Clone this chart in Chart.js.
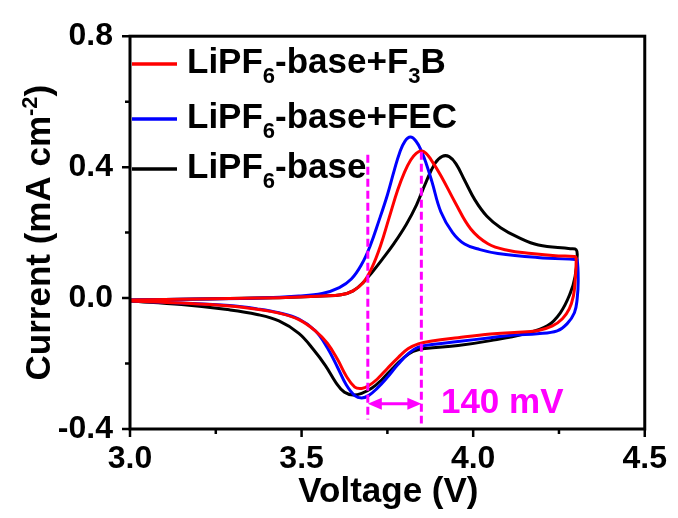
<!DOCTYPE html>
<html><head><meta charset="utf-8">
<script src="https://cdn.jsdelivr.net/npm/chart.js@4/dist/chart.umd.min.js"></script>
<style>html,body{margin:0;padding:0;background:#fff}canvas{display:block}</style>
</head><body>
<canvas id="c" width="678" height="518"></canvas>
<script>
// ---- axis ticks ----
const xMajorTicks = [3.0, 3.5, 4.0, 4.5];
const xMinorTicks = [3.25, 3.75, 4.25];
const yMajorTicks = [-0.4, 0.0, 0.4, 0.8];
const yMinorTicks = [-0.2, 0.2, 0.6];
const xTitle = 'Voltage (V)';
const yTitleParts = [['Current (mA cm', 0], ['-2', 1], [')', 0]];

// ---- legend labels (text, 0 = normal, -1 = subscript) ----
const redLabel   = [['LiPF', 0], ['6', -1], ['-base+F', 0], ['3', -1], ['B', 0]];
const blueLabel  = [['LiPF', 0], ['6', -1], ['-base+FEC', 0]];
const blackLabel = [['LiPF', 0], ['6', -1], ['-base', 0]];

// ---- LiPF6-base+F3B (red): anodic 3.0 -> 4.3, then cathodic 4.3 -> 3.0 ----
const redV = [3.000,3.203,3.376,3.492,3.560,3.615,3.650,3.680,3.705,3.730,3.755,3.780,3.800,3.818,3.834,3.848,3.862,3.877,3.906,3.947,3.993,4.043,4.100,4.170,4.240,4.295,4.300,
              4.297,4.292,4.280,4.260,4.231,4.187,4.120,4.051,3.956,3.880,3.840,3.810,3.782,3.750,3.720,3.695,3.675,3.655,3.630,3.605,3.575,3.540,3.492,3.434,3.370,3.290,3.150,3.000];
const redI = [-0.006,-0.003,0.000,0.003,0.006,0.010,0.022,0.048,0.093,0.160,0.245,0.330,0.385,0.422,0.442,0.449,0.443,0.423,0.374,0.293,0.211,0.166,0.146,0.136,0.129,0.127,0.121,
              0.051,0.006,-0.033,-0.063,-0.085,-0.100,-0.105,-0.110,-0.121,-0.131,-0.140,-0.155,-0.181,-0.215,-0.248,-0.268,-0.276,-0.272,-0.238,-0.188,-0.138,-0.100,-0.066,-0.046,-0.034,-0.024,-0.015,-0.009];

// ---- LiPF6-base+FEC (blue) ----
const blueV = [3.000,3.203,3.376,3.492,3.560,3.610,3.645,3.675,3.700,3.725,3.750,3.770,3.786,3.801,3.817,3.833,3.849,3.865,3.880,3.906,3.940,3.975,4.020,4.072,4.187,4.297,
               4.303,4.306,4.303,4.295,4.274,4.245,4.187,4.120,4.051,3.956,3.880,3.840,3.811,3.780,3.750,3.720,3.695,3.675,3.655,3.630,3.605,3.575,3.540,3.492,3.434,3.370,3.290,3.150,3.000];
const blueI = [-0.006,-0.003,0.000,0.006,0.014,0.032,0.058,0.103,0.160,0.235,0.315,0.390,0.445,0.479,0.492,0.480,0.450,0.405,0.355,0.263,0.200,0.165,0.148,0.136,0.124,0.118,
               0.118,0.051,-0.003,-0.045,-0.078,-0.100,-0.109,-0.113,-0.121,-0.133,-0.142,-0.150,-0.170,-0.204,-0.242,-0.276,-0.298,-0.305,-0.298,-0.265,-0.212,-0.152,-0.100,-0.064,-0.045,-0.033,-0.023,-0.015,-0.009];

// ---- LiPF6-base (black) ----
const blackV = [3.000,3.203,3.376,3.492,3.560,3.615,3.650,3.680,3.705,3.735,3.770,3.805,3.835,3.862,3.889,3.910,3.930,3.950,3.975,4.005,4.040,4.080,4.130,4.190,4.283,4.300,
                4.303,4.297,4.283,4.254,4.216,4.150,4.051,3.956,3.860,3.825,3.795,3.765,3.735,3.705,3.675,3.650,3.625,3.600,3.570,3.535,3.492,3.434,3.370,3.290,3.150,3.000];
const blackI = [-0.006,-0.003,0.000,0.003,0.006,0.010,0.022,0.048,0.078,0.118,0.168,0.225,0.285,0.353,0.412,0.433,0.432,0.410,0.360,0.300,0.250,0.215,0.186,0.162,0.151,0.148,
                0.127,0.066,0.015,-0.045,-0.085,-0.109,-0.130,-0.145,-0.154,-0.163,-0.185,-0.215,-0.248,-0.275,-0.291,-0.296,-0.288,-0.258,-0.207,-0.158,-0.108,-0.070,-0.050,-0.036,-0.020,-0.009];

// ---- peak-separation annotation ----
const markerV = [3.693, 3.849];
const markerTopI = [0.438, 0.447];
const markerBottomI = [-0.371, -0.383];
const arrowI = -0.323;
const annotationText = '140 mV';
const annotationV = 3.906;
const annotationI = -0.350;

const RED = '#FF0000', BLUE = '#0000FF', BLACK = '#000000', MAGENTA = '#FF00FF';
const FONT = '"Liberation Sans", Arial, sans-serif';

function pts(xs, ys) { return xs.map((x, i) => ({ x: x, y: ys[i] })); }

function richWidth(ctx, parts, size) {
  let w = 0;
  for (const [t, s] of parts) {
    ctx.font = 'bold ' + (s === 0 ? size : Math.round(size * 0.62)) + 'px ' + FONT;
    w += ctx.measureText(t).width;
  }
  return w;
}
function drawRich(ctx, parts, x, y, size) {
  let cx = x;
  for (const [t, s] of parts) {
    const fs = s === 0 ? size : Math.round(size * 0.62);
    ctx.font = 'bold ' + fs + 'px ' + FONT;
    const dy = s === -1 ? size * 0.29 : (s === 1 ? -size * 0.38 : 0);
    ctx.fillText(t, cx, y + dy);
    cx += ctx.measureText(t).width;
  }
}

const decor = {
  id: 'decor',
  afterDatasetsDraw(chart) {
    const ctx = chart.ctx, a = chart.chartArea;
    const xs = chart.scales.x, ys = chart.scales.y;
    ctx.save();
    // arrow (double headed)
    const ay = ys.getPixelForValue(arrowI);
    const ax1 = xs.getPixelForValue(markerV[0]), ax2 = xs.getPixelForValue(markerV[1]);
    ctx.strokeStyle = MAGENTA; ctx.fillStyle = MAGENTA; ctx.lineWidth = 3;
    ctx.beginPath(); ctx.moveTo(ax1 + 10, ay); ctx.lineTo(ax2 - 10, ay); ctx.stroke();
    ctx.beginPath(); ctx.moveTo(ax1, ay); ctx.lineTo(ax1 + 14, ay - 6); ctx.lineTo(ax1 + 14, ay + 6); ctx.closePath(); ctx.fill();
    ctx.beginPath(); ctx.moveTo(ax2, ay); ctx.lineTo(ax2 - 14, ay - 6); ctx.lineTo(ax2 - 14, ay + 6); ctx.closePath(); ctx.fill();
    // annotation text
    ctx.font = 'bold 35px ' + FONT;
    ctx.textAlign = 'left'; ctx.textBaseline = 'alphabetic';
    ctx.fillText(annotationText, xs.getPixelForValue(annotationV), ys.getPixelForValue(annotationI));

    // frame
    ctx.strokeStyle = BLACK; ctx.lineWidth = 3;
    ctx.strokeRect(a.left, a.top, a.right - a.left, a.bottom - a.top);
    // ticks
    ctx.lineWidth = 2.5;
    ctx.beginPath();
    for (const v of xMajorTicks) { const p = xs.getPixelForValue(v); ctx.moveTo(p, a.bottom); ctx.lineTo(p, a.bottom + 8); }
    for (const v of xMinorTicks) { const p = xs.getPixelForValue(v); ctx.moveTo(p, a.bottom); ctx.lineTo(p, a.bottom + 5); }
    for (const v of yMajorTicks) { const p = ys.getPixelForValue(v); ctx.moveTo(a.left, p); ctx.lineTo(a.left - 8, p); }
    for (const v of yMinorTicks) { const p = ys.getPixelForValue(v); ctx.moveTo(a.left, p); ctx.lineTo(a.left - 5, p); }
    ctx.stroke();

    // legend
    ctx.fillStyle = BLACK;
    const rows = [[redLabel, RED, 64], [blueLabel, BLUE, 119], [blackLabel, BLACK, 169]];
    for (const [parts, col, y] of rows) {
      ctx.strokeStyle = col; ctx.lineWidth = 3.5;
      ctx.beginPath(); ctx.moveTo(132, y); ctx.lineTo(177, y); ctx.stroke();
      ctx.textAlign = 'left'; ctx.textBaseline = 'alphabetic';
      drawRich(ctx, parts, 187, y + 9, 35);
    }

    // x title
    ctx.font = 'bold 35px ' + FONT;
    ctx.textAlign = 'center'; ctx.textBaseline = 'alphabetic';
    ctx.fillText(xTitle, (a.left + a.right) / 2 + 1, 502);

    // y title
    ctx.save();
    ctx.translate(50, (a.top + a.bottom) / 2);
    ctx.rotate(-Math.PI / 2);
    ctx.textAlign = 'left';
    const w = richWidth(ctx, yTitleParts, 35);
    drawRich(ctx, yTitleParts, -w / 2, 0, 35);
    ctx.restore();
    ctx.restore();
  }
};

const lineDs = (label, xs, ys, col) => ({
  label, data: pts(xs, ys), showLine: true, borderColor: col, backgroundColor: col,
  borderWidth: 3, pointRadius: 0, tension: 0.4, fill: false
});
const markerDs = (i) => ({
  label: 'marker' + i,
  data: [{ x: markerV[i], y: markerTopI[i] }, { x: markerV[i], y: markerBottomI[i] }],
  showLine: true, borderColor: MAGENTA, borderWidth: 3, borderDash: [8, 4], pointRadius: 0, tension: 0
});

new Chart(document.getElementById('c'), {
  type: 'scatter',
  data: {
    datasets: [
      markerDs(0), markerDs(1),
      lineDs('LiPF6-base+F3B', redV, redI, RED),
      lineDs('LiPF6-base+FEC', blueV, blueI, BLUE),
      lineDs('LiPF6-base', blackV, blackI, BLACK)
    ]
  },
  options: {
    responsive: false, animation: false, devicePixelRatio: 1,
    layout: { padding: { top: 32, right: 30, left: 0, bottom: 0 } },
    plugins: { legend: { display: false }, tooltip: { enabled: false } },
    scales: {
      x: {
        type: 'linear', min: 3.0, max: 4.5,
        afterFit: s => { s.height = 89; },
        afterBuildTicks: s => { s.ticks = xMajorTicks.map(v => ({ value: v })); },
        grid: { display: false, drawTicks: false }, border: { display: false },
        ticks: { padding: 11, color: BLACK, font: { family: FONT, size: 32, weight: 'bold' }, callback: v => v.toFixed(1), maxRotation: 0, autoSkip: false }
      },
      y: {
        type: 'linear', min: -0.4, max: 0.8,
        afterFit: s => { s.width = 130; },
        afterBuildTicks: s => { s.ticks = yMajorTicks.map(v => ({ value: v })); },
        grid: { display: false, drawTicks: false }, border: { display: false },
        ticks: { padding: 17, color: BLACK, font: { family: FONT, size: 32, weight: 'bold' }, callback: v => v.toFixed(1), autoSkip: false }
      }
    }
  },
  plugins: [decor]
});
</script>
</body></html>
